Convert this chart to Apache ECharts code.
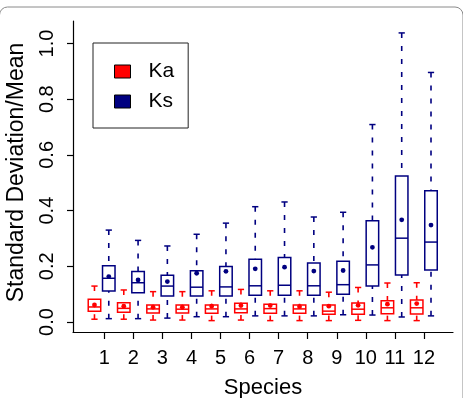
<!DOCTYPE html>
<html>
<head>
<meta charset="utf-8">
<script src="https://cdn.jsdelivr.net/npm/echarts@6/dist/echarts.min.js"></script>
<style>
  html, body { margin: 0; padding: 0; background: #fff; }
  #main { width: 463px; height: 398px; }
</style>
</head>
<body>
<div id="main"></div>
<script>
// species on the x axis
var species = [1, 2, 3, 4, 5, 6, 7, 8, 9, 10, 11, 12];
var yTicks = [0, 0.2, 0.4, 0.6, 0.8, 1.0];

// Ka (red) box stats
var kaLow  = [0.010, 0.010, 0.007, 0.007, 0.005, 0.007, 0.005, 0.005, 0.005, 0.006, 0.005, 0.005];
var kaQ1   = [0.039, 0.035, 0.032, 0.032, 0.031, 0.033, 0.031, 0.031, 0.028, 0.028, 0.030, 0.029];
var kaMed  = [0.054, 0.049, 0.047, 0.046, 0.047, 0.047, 0.048, 0.047, 0.039, 0.046, 0.051, 0.051];
var kaQ3   = [0.082, 0.069, 0.061, 0.061, 0.061, 0.067, 0.064, 0.061, 0.061, 0.068, 0.076, 0.079];
var kaHigh = [0.129, 0.115, 0.109, 0.109, 0.112, 0.117, 0.112, 0.112, 0.107, 0.124, 0.140, 0.141];
var kaMean = [0.061, 0.057, 0.053, 0.053, 0.057, 0.059, 0.059, 0.055, 0.057, 0.060, 0.064, 0.066];

// Ks (blue) box stats
var ksLow  = [0.012, 0.012, 0.014, 0.019, 0.019, 0.022, 0.022, 0.022, 0.026, 0.025, 0.018, 0.022];
var ksQ1   = [0.111, 0.105, 0.093, 0.093, 0.093, 0.096, 0.096, 0.096, 0.100, 0.129, 0.169, 0.187];
var ksMed  = [0.157, 0.141, 0.129, 0.125, 0.126, 0.130, 0.132, 0.130, 0.134, 0.205, 0.301, 0.287];
var ksQ3   = [0.202, 0.181, 0.168, 0.184, 0.199, 0.225, 0.232, 0.212, 0.218, 0.364, 0.524, 0.471];
var ksHigh = [0.330, 0.293, 0.273, 0.315, 0.355, 0.414, 0.431, 0.377, 0.394, 0.709, 1.038, 0.896];
var ksMean = [0.163, 0.151, 0.145, 0.175, 0.182, 0.191, 0.197, 0.183, 0.185, 0.268, 0.367, 0.348];

var RED = '#ff0000';
var NAVY = '#000080';
var FONT = '"Liberation Sans", Arial, Helvetica, sans-serif';

function rows(low, q1, med, q3, high, mean) {
    var out = [];
    for (var i = 0; i < species.length; i++) {
        out.push([species[i], low[i], q1[i], med[i], q3[i], high[i], mean[i]]);
    }
    return out;
}

// boxes sit a bit left/right of the tick, spaced slightly wider than the ticks
function boxRenderer(offset, color) {
    return function (params, api) {
        var s = api.value(0);
        var x = s * 1.008 + offset;
        var lo = api.coord([x, api.value(1)]);
        var q1 = api.coord([x, api.value(2)]);
        var md = api.coord([x, api.value(3)]);
        var q3 = api.coord([x, api.value(4)]);
        var hi = api.coord([x, api.value(5)]);
        var mn = api.coord([x, api.value(6)]);
        var half = api.size([0.43, 0])[0] / 2;
        var cap = half / 2;
        var solid = { stroke: color, lineWidth: 1.5, fill: null };
        var dash = { stroke: color, lineWidth: 1.6, lineDash: [5, 8] };
        return {
            type: 'group',
            children: [
                { type: 'line', shape: { x1: hi[0], y1: hi[1], x2: q3[0], y2: q3[1] }, style: dash },
                { type: 'line', shape: { x1: lo[0], y1: lo[1], x2: q1[0], y2: q1[1] }, style: dash },
                { type: 'line', shape: { x1: hi[0] - cap, y1: hi[1], x2: hi[0] + cap, y2: hi[1] }, style: solid },
                { type: 'line', shape: { x1: lo[0] - cap, y1: lo[1], x2: lo[0] + cap, y2: lo[1] }, style: solid },
                { type: 'rect', shape: { x: q3[0] - half, y: q3[1], width: half * 2, height: q1[1] - q3[1] }, style: solid },
                { type: 'line', shape: { x1: md[0] - half, y1: md[1], x2: md[0] + half, y2: md[1] }, style: solid },
                { type: 'circle', shape: { cx: mn[0], cy: mn[1], r: 2.4 }, style: { fill: color } }
            ]
        };
    };
}

var myChart = echarts.init(document.getElementById('main'));

var option = {
    animation: false,
    backgroundColor: '#fff',
    textStyle: { fontFamily: FONT, color: '#000' },
    graphic: [{
        type: 'rect',
        silent: true,
        z: -10,
        shape: { x: -0.5, y: 7, width: 463.5, height: 430, r: 8 },
        style: { fill: null, stroke: '#8a8a8a', lineWidth: 1 }
    }],
    grid: { left: 73, right: 10, top: 21, bottom: 66, containLabel: false, outerBoundsMode: 'none' },
    legend: {
        orient: 'vertical',
        left: 93,
        top: 43,
        padding: [18, 14, 16, 21],
        itemGap: 9,
        itemWidth: 16,
        itemHeight: 13,
        icon: 'rect',
        backgroundColor: '#fff',
        borderColor: '#222',
        borderWidth: 1,
        borderRadius: 0,
        selectedMode: false,
        textStyle: { fontSize: 21, color: '#000', fontFamily: FONT, padding: [0, 0, 0, 13] },
        data: [
            { name: 'Ka', itemStyle: { color: RED, borderColor: '#000', borderWidth: 1 } },
            { name: 'Ks', itemStyle: { color: NAVY, borderColor: '#000', borderWidth: 1 } }
        ]
    },
    xAxis: {
        type: 'value',
        min: -0.076,
        max: 13.0,
        name: 'Species',
        nameLocation: 'middle',
        nameGap: 45,
        nameTextStyle: { fontSize: 22, color: '#000', fontFamily: FONT },
        axisLine: { show: true, onZero: false, lineStyle: { color: '#000', width: 1.2 } },
        axisTick: { show: true, length: 7, customValues: species, lineStyle: { color: '#000', width: 1.2 } },
        axisLabel: { customValues: species, fontSize: 20, color: '#000', margin: 16, fontFamily: FONT },
        splitLine: { show: false }
    },
    yAxis: {
        type: 'value',
        min: -0.0359,
        max: 1.0808,
        name: 'Standard Deviation/Mean',
        nameLocation: 'middle',
        nameGap: 45,
        nameTextStyle: { fontSize: 23, color: '#000', fontFamily: FONT, padding: [0, 0, 0, 8] },
        axisLine: { show: true, onZero: false, lineStyle: { color: '#000', width: 1.2 } },
        axisTick: { show: true, length: 6, customValues: yTicks, lineStyle: { color: '#000', width: 1.2 } },
        axisLabel: {
            customValues: yTicks,
            rotate: 90,
            fontSize: 20,
            color: '#000',
            margin: 16,
            fontFamily: FONT,
            formatter: function (v) { return v.toFixed(1); }
        },
        splitLine: { show: false }
    },
    series: [
        {
            name: 'Ka',
            type: 'custom',
            itemStyle: { color: RED },
            renderItem: boxRenderer(-0.345, RED),
            encode: { x: 0, y: [1, 2, 3, 4, 5, 6] },
            data: rows(kaLow, kaQ1, kaMed, kaQ3, kaHigh, kaMean)
        },
        {
            name: 'Ks',
            type: 'custom',
            itemStyle: { color: NAVY },
            renderItem: boxRenderer(0.147, NAVY),
            encode: { x: 0, y: [1, 2, 3, 4, 5, 6] },
            data: rows(ksLow, ksQ1, ksMed, ksQ3, ksHigh, ksMean)
        }
    ]
};

myChart.setOption(option);

window.onresize = function () {
    myChart.resize();
};
</script>
</body>
</html>
